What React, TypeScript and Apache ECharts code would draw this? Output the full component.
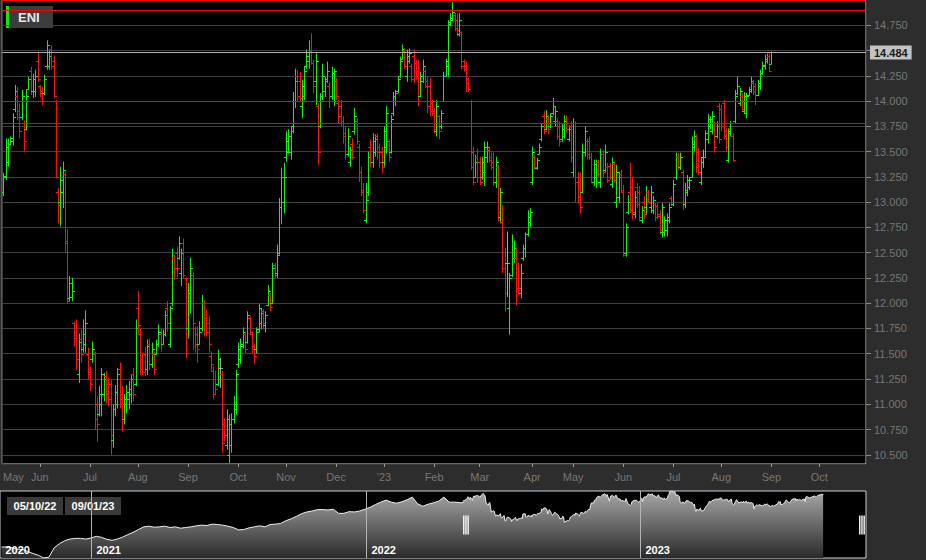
import React, { useEffect, useRef } from 'react';
import * as echarts from 'echarts';

// ---------- labels / categories ----------
const SYMBOL = 'ENI';
const RANGE_LABELS = ['05/10/22', '09/01/23'];
const FIRST_DAY = '2022-05-10';
const AXIS_END_DAY = '2023-10-30';
const HOLIDAYS = ['2022-08-15', '2022-12-26', '2023-04-07', '2023-04-10', '2023-05-01', '2023-08-15'];
const MONTHS = ['Jan', 'Feb', 'Mar', 'Apr', 'May', 'Jun', 'Jul', 'Aug', 'Sep', 'Oct', 'Nov', 'Dec'];

// ---------- daily OHLC (May 10 2022 - Sep 1 2023) ----------
const OPEN = [
  13.10,13.25,13.40,13.58,13.60,13.92,14.05,13.90,13.84,13.78,
  13.72,14.12,14.30,14.10,14.10,14.40,14.15,14.10,14.08,14.35,
  14.35,14.52,14.40,14.00,13.10,13.00,13.10,13.28,12.62,12.05,
  12.06,11.80,11.75,11.30,11.65,11.55,11.60,11.50,11.32,11.45,
  11.50,11.00,10.90,11.00,11.10,11.28,11.20,11.20,10.65,10.95,
  11.00,11.35,11.10,10.85,11.00,11.05,11.10,11.30,11.20,11.95,
  11.70,11.45,11.50,11.35,11.60,11.40,11.50,11.50,11.60,11.70,
  11.60,11.70,11.95,11.60,12.00,12.45,12.50,12.45,12.30,12.60,
  12.25,11.75,12.10,12.28,11.75,11.70,11.60,11.75,12.00,11.85,
  11.80,11.48,11.33,11.25,11.20,11.36,11.30,10.80,10.60,10.50,
  10.60,10.85,10.95,11.40,11.45,11.58,11.70,11.62,11.85,11.70,
  11.58,11.55,11.74,11.80,11.92,11.78,11.98,12.08,12.00,12.38,
  12.30,12.50,12.95,13.00,13.45,13.50,13.50,13.75,14.00,14.25,
  14.20,13.95,14.05,14.35,14.40,14.50,14.38,14.20,13.95,13.75,
  14.05,14.10,14.22,14.15,14.05,14.00,14.20,13.98,13.95,13.80,
  13.68,13.48,13.40,13.58,13.70,13.80,13.55,13.30,13.12,12.82,
  13.10,13.55,13.40,13.50,13.65,13.55,13.50,13.40,13.55,13.60,
  13.50,13.88,14.00,14.10,14.25,14.42,14.50,14.25,14.40,14.35,
  14.45,14.38,14.30,14.05,14.20,14.30,14.20,14.15,13.98,13.90,
  13.70,13.85,13.75,14.00,14.25,14.35,14.76,14.80,14.85,14.80,
  14.66,14.68,14.40,14.35,14.22,14.00,13.50,13.25,13.45,13.40,
  13.25,13.30,13.45,13.52,13.45,13.40,13.20,13.35,12.85,12.80,
  12.35,12.40,11.95,12.28,12.45,12.45,12.35,12.10,12.45,12.55,
  12.68,12.80,13.20,13.45,13.34,13.48,13.62,13.85,13.72,13.82,
  13.75,13.88,13.80,13.80,13.75,13.62,13.65,13.82,13.62,13.75,
  13.30,13.78,13.25,13.20,13.10,13.50,13.60,13.60,13.45,13.20,
  13.25,13.40,13.20,13.48,13.32,13.35,13.36,13.18,13.38,13.00,
  13.05,13.28,13.10,12.50,12.90,13.10,13.15,12.88,13.15,13.10,
  12.82,13.00,12.95,13.10,12.95,12.92,12.98,12.96,12.88,12.70,
  12.70,12.72,12.82,13.04,12.98,13.25,13.45,13.35,13.30,12.98,
  13.10,13.15,13.25,13.55,13.62,13.50,13.20,13.45,13.45,13.62,
  13.75,13.70,13.78,13.65,13.95,13.92,13.98,13.70,13.42,13.68,
  13.65,13.80,14.08,13.98,14.05,13.90,13.88,14.06,14.10,14.18,
  14.15,14.06,14.15,14.28,14.35,14.40,14.45,14.37,
];
const HIGH = [
  13.29,13.63,13.63,13.65,13.88,14.16,14.14,13.98,14.11,13.81,
  14.11,14.24,14.34,14.27,14.31,14.49,14.16,14.14,14.26,14.60,
  14.50,14.55,14.45,14.01,13.14,13.35,13.40,13.30,12.73,12.27,
  12.25,11.82,11.84,11.70,11.74,11.84,11.93,11.56,11.37,11.62,
  11.52,11.08,11.18,11.36,11.31,11.33,11.26,11.24,11.00,11.19,
  11.36,11.41,11.18,11.10,11.19,11.23,11.29,11.36,11.84,12.12,
  11.75,11.51,11.57,11.64,11.65,11.61,11.52,11.64,11.79,11.75,
  11.74,11.93,12.02,11.97,12.54,12.48,12.56,12.66,12.54,12.64,
  12.26,12.20,12.45,12.30,11.77,11.77,11.82,12.08,12.03,11.93,
  11.87,11.52,11.37,11.33,11.54,11.46,11.33,10.86,10.95,10.90,
  10.91,11.08,11.34,11.61,11.65,11.76,11.72,11.92,11.87,11.72,
  11.60,11.76,11.99,11.95,11.94,11.92,12.18,12.10,12.40,12.40,
  12.58,13.04,13.34,13.39,13.70,13.72,13.75,14.09,14.32,14.31,
  14.29,14.21,14.34,14.51,14.60,14.67,14.41,14.47,13.98,14.08,
  14.37,14.24,14.39,14.19,14.34,14.32,14.23,14.01,14.01,13.85,
  13.75,13.73,13.55,13.63,13.93,13.83,13.58,13.35,13.19,13.19,
  13.50,13.62,13.68,13.67,13.68,13.58,13.55,13.75,13.95,13.62,
  13.86,14.09,14.11,14.24,14.44,14.56,14.52,14.51,14.52,14.37,
  14.51,14.41,14.41,14.29,14.41,14.32,14.24,14.23,14.01,13.93,
  14.01,13.86,13.91,14.29,14.42,14.80,14.87,14.98,14.87,14.87,
  14.87,14.69,14.41,14.39,14.23,14.01,13.55,13.47,13.53,13.45,
  13.45,13.60,13.60,13.55,13.49,13.49,13.45,13.37,13.14,12.97,
  12.55,12.71,12.30,12.68,12.62,12.55,12.40,12.39,12.58,12.70,
  12.92,12.94,13.55,13.47,13.44,13.58,13.78,13.90,13.91,13.86,
  13.88,14.03,13.95,13.83,13.80,13.78,13.86,13.86,13.76,13.80,
  13.83,13.80,13.30,13.29,13.58,13.75,13.63,13.65,13.49,13.42,
  13.42,13.42,13.53,13.52,13.57,13.39,13.39,13.44,13.39,13.37,
  13.30,13.32,13.17,12.79,13.07,13.39,13.24,13.11,13.19,13.16,
  12.96,13.06,13.16,13.12,13.16,13.06,12.99,12.99,12.92,12.99,
  12.86,12.89,12.99,13.06,13.22,13.49,13.49,13.49,13.32,13.19,
  13.27,13.25,13.65,13.71,13.67,13.53,13.44,13.52,13.71,13.87,
  13.85,13.90,13.80,13.80,13.98,13.96,14.01,13.73,13.73,13.80,
  13.68,14.11,14.24,14.13,14.08,14.09,14.08,14.14,14.24,14.21,
  14.18,14.21,14.31,14.39,14.46,14.47,14.47,14.49,
];
const LOW = [
  13.06,13.22,13.35,13.56,13.56,13.89,13.81,13.63,13.81,13.50,
  13.71,14.11,14.06,14.03,14.04,14.19,14.04,13.96,14.06,14.31,
  14.31,14.31,14.03,13.24,12.79,12.76,12.94,12.50,12.00,12.02,
  12.02,11.57,11.34,11.21,11.41,11.51,11.51,11.24,11.13,11.41,
  10.75,10.63,10.88,10.88,11.03,11.01,10.98,10.50,10.57,10.88,
  10.96,10.96,10.73,10.80,10.91,10.95,11.01,11.03,11.18,11.70,
  11.29,11.29,11.28,11.29,11.34,11.36,11.29,11.49,11.57,11.52,
  11.59,11.67,11.72,11.56,11.97,12.23,12.26,12.43,12.17,12.25,
  11.46,11.65,11.90,11.54,11.51,11.41,11.59,11.72,11.67,11.67,
  11.51,11.33,11.05,11.10,11.18,11.16,10.52,10.63,10.55,10.42,
  10.52,10.81,10.90,11.36,11.40,11.55,11.50,11.60,11.69,11.50,
  11.40,11.50,11.71,11.74,11.74,11.71,11.97,11.92,11.99,12.25,
  12.25,12.48,12.78,12.89,13.40,13.48,13.42,13.68,13.93,14.00,
  14.00,13.83,14.01,14.32,14.32,14.36,14.08,13.96,13.37,13.73,
  14.01,14.04,14.18,13.93,14.01,13.95,14.01,13.78,13.75,13.58,
  13.42,13.45,13.35,13.42,13.67,13.57,13.20,13.06,12.89,12.79,
  13.06,13.34,13.34,13.45,13.42,13.34,13.29,13.35,13.48,13.40,
  13.48,13.85,13.95,14.08,14.23,14.41,14.32,14.19,14.37,14.19,
  14.18,14.21,13.95,14.04,14.18,14.13,13.88,13.85,13.85,13.68,
  13.65,13.62,13.72,14.00,14.24,14.24,14.74,14.79,14.69,14.64,
  14.64,14.31,14.29,14.09,14.09,13.32,13.17,13.24,13.19,13.17,
  13.22,13.16,13.39,13.39,13.32,13.16,13.14,12.81,12.79,12.30,
  11.92,12.06,11.69,12.26,12.40,11.98,12.08,12.05,12.42,12.45,
  12.66,12.75,13.17,13.32,13.32,13.47,13.60,13.67,13.71,13.67,
  13.73,13.86,13.75,13.62,13.55,13.60,13.63,13.68,13.60,13.39,
  13.25,13.00,12.99,12.89,13.09,13.45,13.42,13.42,13.19,13.16,
  13.14,13.25,13.14,13.24,13.30,13.19,13.22,13.14,13.19,12.94,
  12.99,13.09,12.46,12.46,12.88,12.89,12.83,12.84,12.94,12.81,
  12.79,12.83,12.88,12.99,12.89,12.88,12.81,12.83,12.68,12.65,
  12.66,12.66,12.79,12.96,12.96,13.22,13.32,13.32,12.92,12.94,
  13.06,13.12,13.24,13.50,13.29,13.27,13.17,13.34,13.44,13.58,
  13.72,13.67,13.49,13.63,13.58,13.70,13.62,13.50,13.39,13.65,
  13.40,13.78,14.06,13.95,13.90,13.88,13.83,14.05,14.08,14.06,
  13.96,14.05,14.11,14.26,14.31,14.37,14.29,14.36,
];
const CLOSE = [
  13.26,13.55,13.58,13.63,13.84,14.10,13.84,13.70,14.05,13.60,
  14.05,14.22,14.10,14.22,14.25,14.22,14.08,14.00,14.22,14.55,
  14.45,14.35,14.05,13.25,12.97,13.22,13.32,12.60,12.02,12.20,
  12.12,11.66,11.45,11.62,11.50,11.70,11.80,11.30,11.20,11.55,
  10.85,10.80,11.10,11.30,11.25,11.10,11.05,10.70,10.95,11.12,
  11.30,11.05,10.85,11.05,11.12,11.15,11.25,11.10,11.75,11.78,
  11.35,11.32,11.35,11.58,11.40,11.55,11.35,11.60,11.72,11.60,
  11.70,11.88,11.80,11.95,12.45,12.35,12.35,12.60,12.50,12.28,
  11.75,12.10,12.35,11.80,11.60,11.55,11.72,12.00,11.75,11.72,
  11.60,11.40,11.10,11.15,11.45,11.36,10.62,10.70,10.85,10.80,
  10.85,11.00,11.30,11.55,11.60,11.72,11.55,11.88,11.72,11.55,
  11.48,11.72,11.95,11.90,11.80,11.88,12.12,11.96,12.35,12.28,
  12.48,12.95,13.25,13.25,13.60,13.65,13.70,14.00,14.20,14.05,
  14.03,14.15,14.30,14.45,14.50,14.38,14.15,14.40,13.50,14.00,
  14.25,14.20,14.30,14.00,14.28,14.30,14.05,13.85,13.78,13.65,
  13.48,13.65,13.52,13.45,13.85,13.60,13.25,13.10,12.92,13.02,
  13.45,13.40,13.60,13.62,13.50,13.40,13.35,13.70,13.88,13.45,
  13.82,14.05,14.08,14.22,14.40,14.52,14.35,14.45,14.48,14.22,
  14.25,14.25,14.00,14.25,14.35,14.15,13.95,13.90,13.88,13.72,
  13.95,13.70,13.88,14.25,14.40,14.78,14.82,14.88,14.72,14.70,
  14.80,14.35,14.32,14.18,14.12,13.35,13.20,13.40,13.25,13.20,
  13.40,13.55,13.55,13.42,13.35,13.25,13.40,12.90,13.10,12.35,
  12.10,12.40,12.25,12.45,12.55,12.15,12.15,12.30,12.55,12.68,
  12.85,12.90,13.50,13.35,13.42,13.55,13.75,13.70,13.85,13.72,
  13.85,13.95,13.90,13.65,13.60,13.72,13.80,13.72,13.72,13.45,
  13.78,13.20,13.05,12.95,13.50,13.70,13.48,13.45,13.25,13.38,
  13.40,13.28,13.48,13.30,13.50,13.22,13.25,13.40,13.22,13.30,
  13.25,13.12,12.48,12.75,13.00,12.92,12.90,13.05,12.98,12.85,
  12.92,12.88,13.10,13.00,13.10,13.02,12.85,12.86,12.72,12.95,
  12.82,12.85,12.95,12.98,13.18,13.45,13.35,13.45,13.00,13.12,
  13.22,13.22,13.58,13.65,13.35,13.30,13.40,13.45,13.68,13.82,
  13.82,13.85,13.55,13.75,13.62,13.75,13.65,13.55,13.70,13.78,
  13.42,14.05,14.15,14.10,13.92,14.05,14.05,14.12,14.20,14.10,
  14.00,14.18,14.28,14.36,14.42,14.45,14.30,14.484,
];

// ---------- reference levels ----------
const LAST_PRICE = 14.484;
const RED_LEVELS = [14.996, 14.896, 14.0, 13.777];
const Y_MIN = 10.409;
const Y_MAX = 15.0;
const Y_STEP = 0.25;

// ---------- navigator (weekly closes Sep 2020 - May 2022, then daily closes) ----------
const NAV_START = '2020-09-02';
const NAV_END = '2023-10-28';
const NAV_WEEK_START = '2020-09-04';
const NAV_WEEKLY = [
  7.24, 7.28, 7.15, 6.96, 6.92, 6.64, 6.36, 6.13, 5.76, 5.86,
  7.15, 7.70, 8.11, 8.34, 8.43, 8.43, 8.34, 8.48, 8.71, 8.57,
  8.30, 8.16, 8.34, 8.62, 8.94, 9.26, 9.63, 10.00, 10.09, 9.95,
  10.00, 10.09, 9.91, 10.00, 9.82, 9.91, 10.00, 10.14, 10.23, 10.18,
  10.37, 10.32, 10.23, 10.09, 9.91, 9.59, 9.63, 9.86, 10.00, 10.14,
  10.00, 10.32, 10.37, 10.46, 10.83, 11.10, 11.43, 11.80, 12.03, 12.16,
  12.35, 12.35, 12.30, 12.39, 11.84, 11.84, 12.07, 12.03, 12.16, 12.39,
  12.67, 13.04, 13.36, 13.64, 13.36, 13.22, 13.41, 13.68, 14.05, 13.13,
  12.81, 13.08, 13.27, 13.50, 14.05, 13.36, 13.36, 13.30,
];
const YEAR_MARKS = ['2020-09-02', '2021-01-01', '2022-01-01', '2023-01-01'];
const YEAR_LABELS = ['2020', '2021', '2022', '2023'];

// ---------- styles ----------
const FONT = '"Liberation Sans", Arial, sans-serif';
const UP = '#14f014';
const DOWN = '#ff1010';
const FLAT = '#a8a8a8';
const BG = '#2d2d2d';
const GRID_LINE = '#3e3e3e';
const BORDER = '#c9ced8';
const LABEL = '#767676';

function isoDay(d: Date) {
  return d.toISOString().slice(0, 10);
}
function tradingDays(start: string, end: string, holidays: string[]) {
  const out: string[] = [];
  const d = new Date(start + 'T00:00:00Z');
  const e = new Date(end + 'T00:00:00Z');
  while (d <= e) {
    const wd = d.getUTCDay();
    const s = isoDay(d);
    if (wd !== 0 && wd !== 6 && holidays.indexOf(s) < 0) out.push(s);
    d.setUTCDate(d.getUTCDate() + 1);
  }
  return out;
}
function weeklyDays(start: string, n: number) {
  const out: string[] = [];
  const d = new Date(start + 'T00:00:00Z');
  for (let k = 0; k < n; k++) {
    out.push(isoDay(d));
    d.setUTCDate(d.getUTCDate() + 7);
  }
  return out;
}

const AXIS_DAYS = tradingDays(FIRST_DAY, AXIS_END_DAY, HOLIDAYS);
const isMonthStart = (i: number) => i > 0 && AXIS_DAYS[i].slice(5, 7) !== AXIS_DAYS[i - 1].slice(5, 7);

export default function App() {
  const ref = useRef<HTMLDivElement>(null);

  useEffect(() => {
    if (!ref.current) return;
    const chart = echarts.init(ref.current, null, { renderer: 'svg' });

    const ohlc = OPEN.map((o, i) => [i, o, HIGH[i], LOW[i], CLOSE[i]]);
    const weekDates = weeklyDays(NAV_WEEK_START, NAV_WEEKLY.length);
    const navData = weekDates
      .map((d, k) => [d, NAV_WEEKLY[k]])
      .concat(CLOSE.map((c, i) => [AXIS_DAYS[i], c]));

    const option: any = {
      animation: false,
      backgroundColor: BG,
      textStyle: { fontFamily: FONT },
      grid: [
        { left: 0, top: 0, width: 866, height: 464, show: true, backgroundColor: '#000', borderColor: BORDER, borderWidth: 1 },
        { left: 0, top: 491, width: 866, height: 67, show: true, backgroundColor: '#000', borderColor: BORDER, borderWidth: 1 },
      ],
      xAxis: [
        {
          type: 'category',
          gridIndex: 0,
          data: AXIS_DAYS,
          boundaryGap: true,
          axisLine: { show: false },
          axisTick: {
            show: true,
            alignWithLabel: true,
            length: 3,
            interval: (i: number) => isMonthStart(i),
            lineStyle: { color: '#9a9a9a' },
          },
          axisLabel: {
            interval: (i: number) => i === 0 || isMonthStart(i),
            color: LABEL,
            fontSize: 11,
            margin: 7,
            fontFamily: FONT,
            formatter: (value: string, index: number) => {
              const m = +value.slice(5, 7);
              const name = m === 1 ? "'" + value.slice(2, 4) : MONTHS[m - 1];
              return index === 0 ? '{first|' + name + '}' : name;
            },
            rich: { first: { padding: [0, 0, 0, 20], color: LABEL, fontSize: 11, fontFamily: FONT } },
          },
          splitLine: {
            show: true,
            interval: (i: number) => i > 0 && AXIS_DAYS[i].slice(0, 4) !== AXIS_DAYS[i - 1].slice(0, 4),
            lineStyle: { color: GRID_LINE, width: 1 },
          },
        },
        {
          type: 'time',
          gridIndex: 1,
          min: NAV_START,
          max: NAV_END,
          show: false,
        },
      ],
      yAxis: [
        {
          type: 'value',
          gridIndex: 0,
          position: 'right',
          min: Y_MIN,
          max: Y_MAX,
          minInterval: Y_STEP,
          maxInterval: Y_STEP,
          axisLine: { show: false },
          axisTick: { show: true, length: 5, lineStyle: { color: '#8a8a8a' } },
          axisLabel: {
            color: LABEL,
            fontSize: 11,
            margin: 8,
            fontFamily: FONT,
            showMinLabel: false,
            showMaxLabel: false,
            // the last-price tag covers the tick label next to it
            formatter: (v: number) => (Math.abs(v - LAST_PRICE) < Y_STEP / 4 ? '' : v.toFixed(3)),
          },
          splitLine: { show: true, lineStyle: { color: GRID_LINE, width: 1 } },
        },
        { type: 'value', gridIndex: 1, min: 'dataMin', max: 'dataMax', show: false },
        { type: 'value', gridIndex: 1, min: 0, max: 1, show: false },
      ],
      series: [
        {
          type: 'custom',
          name: SYMBOL,
          xAxisIndex: 0,
          yAxisIndex: 0,
          clip: true,
          silent: true,
          encode: { x: 0, y: [1, 2, 3, 4] },
          data: ohlc,
          renderItem: (params: any, api: any) => {
            const idx = api.value(0);
            const o = api.value(1);
            const h = api.value(2);
            const l = api.value(3);
            const c = api.value(4);
            const pH = api.coord([idx, h]);
            const pL = api.coord([idx, l]);
            const pO = api.coord([idx, o]);
            const pC = api.coord([idx, c]);
            const px = Math.round(pH[0]);
            const x = px + 0.5;
            const col = c > o ? UP : c < o ? DOWN : FLAT;
            const yo = Math.round(pO[1]) + 0.5;
            const yc = Math.round(pC[1]) + 0.5;
            return {
              type: 'group',
              children: [
                { type: 'line', shape: { x1: x, y1: pH[1], x2: x, y2: pL[1] }, style: { stroke: col, lineWidth: 1 } },
                { type: 'line', shape: { x1: px - 2, y1: yo, x2: px, y2: yo }, style: { stroke: col, lineWidth: 1 } },
                { type: 'line', shape: { x1: px + 1, y1: yc, x2: px + 3, y2: yc }, style: { stroke: col, lineWidth: 1 } },
              ],
            };
          },
          markLine: {
            silent: true,
            symbol: ['none', 'none'],
            animation: false,
            data: [
              ...RED_LEVELS.map((v) => ({
                yAxis: v,
                lineStyle: { color: '#ff0000', width: 1, type: 'solid' },
                label: { show: false },
              })),
              {
                yAxis: LAST_PRICE,
                lineStyle: { color: '#b0b0b0', width: 1, type: 'solid' },
                label: {
                  show: true,
                  position: 'end',
                  distance: 4,
                  formatter: LAST_PRICE.toFixed(3),
                  backgroundColor: '#c3c3c3',
                  color: '#1a1a1a',
                  fontWeight: 'bold',
                  fontSize: 11,
                  fontFamily: FONT,
                  padding: [1, 4, 1, 4],
                  lineHeight: 12,
                },
              },
            ],
          },
        },
        {
          type: 'line',
          xAxisIndex: 1,
          yAxisIndex: 1,
          z: 2,
          data: navData,
          showSymbol: false,
          silent: true,
          lineStyle: { color: '#eeeeee', width: 1 },
          areaStyle: {
            color: new echarts.graphic.LinearGradient(0, 0, 0, 1, [
              { offset: 0, color: '#a8a8a8' },
              { offset: 1, color: '#2a2a2a' },
            ]),
            opacity: 1,
          },
        },
        {
          type: 'custom',
          xAxisIndex: 1,
          yAxisIndex: 2,
          z: 10,
          silent: true,
          clip: false,
          data: YEAR_MARKS.map((d) => [d, 0.5]),
          renderItem: (params: any, api: any) => {
            const p = api.coord([api.value(0), 0.5]);
            const cs = params.coordSys;
            const x = Math.round(p[0]) + 0.5;
            const children: any[] = [];
            if (params.dataIndex > 0) {
              children.push({
                type: 'line',
                shape: { x1: x, y1: cs.y, x2: x, y2: cs.y + cs.height },
                style: { stroke: '#b4b4b4', lineWidth: 1 },
              });
            }
            children.push({
              type: 'text',
              x: x + 5,
              y: cs.y + cs.height - 8,
              style: {
                text: YEAR_LABELS[params.dataIndex],
                fill: '#ffffff',
                fontSize: 11,
                fontWeight: 'bold',
                fontFamily: FONT,
                align: 'left',
                verticalAlign: 'middle',
              },
            });
            return { type: 'group', children };
          },
        },
        {
          type: 'custom',
          xAxisIndex: 1,
          yAxisIndex: 2,
          z: 11,
          silent: true,
          clip: false,
          data: [[FIRST_DAY, 0.5], [NAV_END, 0.5]],
          renderItem: (params: any, api: any) => {
            const p = api.coord([api.value(0), 0.5]);
            const left = params.dataIndex === 0 ? Math.round(p[0]) : Math.round(p[0]) - 7;
            const cy = Math.round(p[1]);
            return {
              type: 'group',
              children: [0, 2.2, 4.4].map((dx) => ({
                type: 'rect',
                shape: { x: left + dx, y: cy - 9.5, width: 1.5, height: 19 },
                style: { fill: '#f2f2f2' },
              })),
            };
          },
        },
      ],
      graphic: [
        {
          type: 'group',
          left: 6,
          top: 6,
          z: 100,
          children: [
            { type: 'rect', shape: { x: 0, y: 0, width: 47, height: 22 }, style: { fill: '#3c3c3c' } },
            { type: 'rect', shape: { x: 0, y: 0, width: 3, height: 22 }, style: { fill: '#12e612' } },
            {
              type: 'text',
              x: 12,
              y: 11,
              style: {
                text: SYMBOL,
                fill: '#e8e8e8',
                fontSize: 13,
                fontWeight: 'bold',
                fontFamily: FONT,
                align: 'left',
                verticalAlign: 'middle',
              },
            },
          ],
        },
        ...RANGE_LABELS.map((t, k) => ({
          type: 'group',
          left: 7 + k * 58,
          top: 497,
          z: 100,
          children: [
            { type: 'rect', shape: { x: 0, y: 0, width: 56, height: 18 }, style: { fill: '#3a3a3a' } },
            {
              type: 'text',
              x: 28,
              y: 9,
              style: {
                text: t,
                fill: '#ffffff',
                fontSize: 11,
                fontWeight: 'bold',
                fontFamily: FONT,
                align: 'center',
                verticalAlign: 'middle',
              },
            },
          ],
        })),
      ],
    };

    chart.setOption(option);
    return () => chart.dispose();
  }, []);

  return (
    <div
      ref={ref}
      style={{ position: 'absolute', left: 0, top: 0, width: 926, height: 560 }}
    />
  );
}
